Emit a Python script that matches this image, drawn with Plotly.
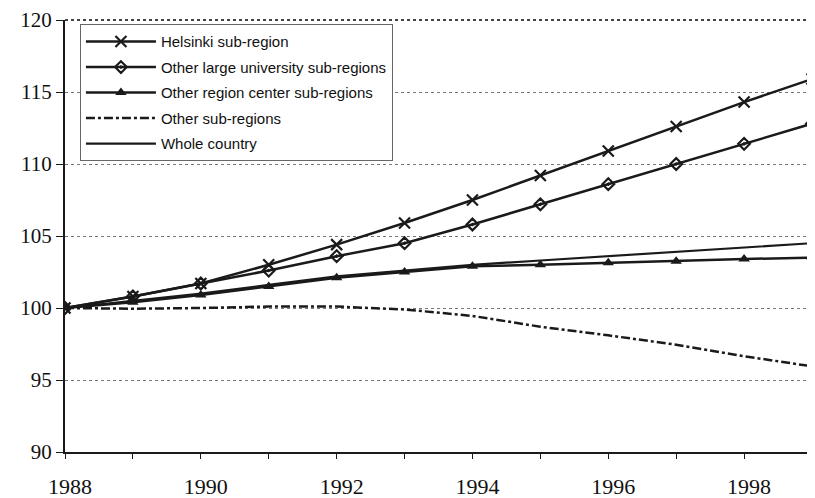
import plotly.graph_objects as go

years = list(range(1988, 2000))
helsinki = [100, 100.8, 101.7, 103.0, 104.4, 105.9, 107.5, 109.2, 110.9, 112.6, 114.3, 115.9]
university = [100, 100.8, 101.7, 102.6, 103.6, 104.5, 105.8, 107.2, 108.6, 110.0, 111.4, 112.8]
region_center = [100, 100.4, 100.9, 101.5, 102.1, 102.5, 102.9, 103.0, 103.15, 103.25, 103.4, 103.5]
other = [100, 99.95, 100.0, 100.1, 100.1, 99.9, 99.45, 98.7, 98.1, 97.45, 96.65, 95.95]
whole = [100, 100.5, 101.0, 101.6, 102.2, 102.6, 103.0, 103.3, 103.6, 103.9, 104.2, 104.5]

names = ["Helsinki sub-region", "Other large university sub-regions",
         "Other region center sub-regions", "Other sub-regions", "Whole country"]
xtick_vals = [1988, 1990, 1992, 1994, 1996, 1998]
ytick_vals = [90, 95, 100, 105, 110, 115, 120]

ink = "#1a1a1a"
serif = "Liberation Serif, Times New Roman"
fig = go.Figure()
fig.add_trace(go.Scatter(x=years, y=helsinki, name=names[0], mode="lines+markers", legendgroup="a",
                         line=dict(color=ink, width=2.5),
                         marker=dict(symbol="x-thin", size=11, line=dict(color=ink, width=2.2), color=ink)))
fig.add_trace(go.Scatter(x=years, y=university, name=names[1], mode="lines+markers", legendgroup="b",
                         line=dict(color=ink, width=2.5),
                         marker=dict(symbol="diamond-open-dot", size=9, line=dict(color=ink, width=2.2), color=ink)))
fig.add_trace(go.Scatter(x=years, y=region_center, name=names[2], mode="lines+markers", legendgroup="c",
                         line=dict(color=ink, width=2.5),
                         marker=dict(symbol="triangle-up", size=10, color=ink)))
fig.add_trace(go.Scatter(x=years, y=other, name=names[3], mode="lines", legendgroup="d",
                         line=dict(color=ink, width=2.5, dash="dashdot")))
fig.add_trace(go.Scatter(x=years, y=whole, name=names[4], mode="lines", legendgroup="e",
                         line=dict(color=ink, width=2.2)))

# the page body adds an 8px offset, so the figure is sized to fit inside the window
fig.update_layout(
    width=807, height=490,
    margin=dict(l=57, r=3, t=12, b=46),
    paper_bgcolor="white", plot_bgcolor="white",
    showlegend=True,
    legend=dict(x=0.02, y=0.99, xanchor="left", yanchor="top",
                bgcolor="white", bordercolor="#666666", borderwidth=1,
                font=dict(family="Liberation Sans, Arial", size=15, color="#111111"),
                itemwidth=70, tracegroupgap=3),
    font=dict(family=serif, size=22, color="#111111"),
)
fig.update_xaxes(range=[1988, 1999], tickvals=xtick_vals, ticktext=[str(v) for v in xtick_vals],
                 ticks="outside", ticklen=5, tickcolor=ink, showgrid=False, automargin=False,
                 showline=True, linecolor=ink, linewidth=2, mirror=False, ticklabeloverflow="allow",
                 minor=dict(dtick=1, tick0=1988, ticks="outside", ticklen=5, tickcolor=ink, showgrid=False),
                 ticklabelstandoff=9, ticklabelshift=5, zeroline=False,
                 tickfont=dict(family=serif, size=22))
fig.update_yaxes(range=[90, 120], tickvals=ytick_vals, ticks="outside", ticklen=7, tickcolor=ink,
                 showgrid=True, gridcolor="#777777", griddash="dot", gridwidth=1, automargin=False,
                 showline=True, linecolor=ink, linewidth=2, zeroline=False, ticklabeloverflow="allow",
                 tickfont=dict(family=serif, size=21))
# top and right dotted border
fig.add_shape(type="line", xref="paper", yref="paper", x0=0, x1=1, y0=1, y1=1,
              line=dict(color="#444444", width=2, dash="dot"))
fig.add_shape(type="line", xref="paper", yref="paper", x0=1, x1=1, y0=0, y1=1,
              line=dict(color="#888888", width=1, dash="dot"))
fig.write_html("out.html")
